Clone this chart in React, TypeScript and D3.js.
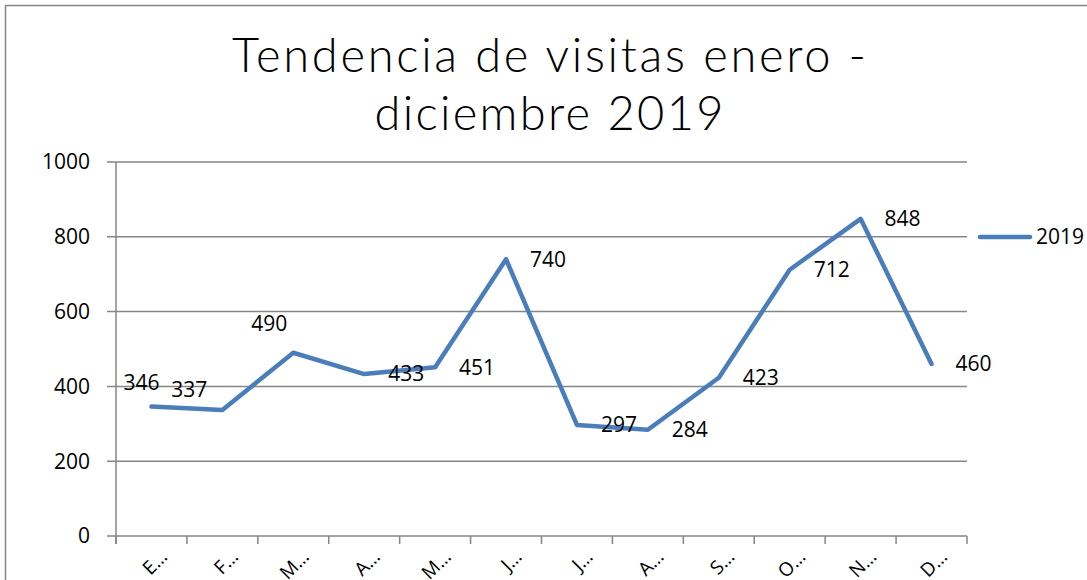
import React from "react";
import * as d3 from "d3";

const months = ["Enero", "Febrero", "Marzo", "Abril", "Mayo", "Junio", "Julio", "Agosto", "Septiembre", "Octubre", "Noviembre", "Diciembre"];
const visits2019 = [346, 337, 490, 433, 451, 740, 297, 284, 423, 712, 848, 460];
const yTicks = [0, 200, 400, 600, 800, 1000];
const seriesName = "2019";
const titleLines = ["Tendencia de visitas enero -", "diciembre 2019"];
// label placement: "r" right, "la"/"lb" left-above, "a" above
const labelPos = ["la", "lb", "a", "r", "r", "r", "r", "r", "r", "r", "r", "r"];

const W = 1087, H = 580;
const M = { left: 116, right: 967, top: 162, bottom: 536 };
const BLUE = "#4a7ebb";
const GRID = "#868686";
const NUM_FONT = "'Open Sans', sans-serif";
const titleWidths = [634, 349];

export default function App() {
  const x = d3.scaleBand<string>().domain(months).range([M.left, M.right]);
  const y = d3.scaleLinear().domain([0, 1000]).range([M.bottom, M.top]);
  const cx = (m: string) => (x(m) ?? 0) + x.bandwidth() / 2;
  const line = d3.line<number>().x((_, i) => cx(months[i])).y((v) => y(v));
  const tickXs = months.map((m) => x(m) ?? 0).concat([M.right]);

  return (
    <div style={{ position: "fixed", left: 0, top: 0 }}>
      <svg width={W} height={H} style={{ display: "block", background: "#fff" }}>
        <rect x={5.5} y={5.5} width={W + 20} height={H + 20} fill="#fff" stroke={GRID} strokeWidth={1.5} />
        <g fontFamily="Lato, sans-serif" fontWeight={300} fontSize={47} textAnchor="middle" fill="#000">
          {titleLines.map((t, i) => (
            <text key={i} x={549} y={72 + i * 58} textLength={titleWidths[i]} lengthAdjust="spacing">{t}</text>
          ))}
        </g>
        {yTicks.map((t) => (
          <g key={t}>
            <line x1={M.left - 9} x2={M.right} y1={y(t)} y2={y(t)} stroke={GRID} strokeWidth={1.5} />
            <text x={90} y={y(t)} dy="0.35em" textAnchor="end" fontFamily={NUM_FONT} fontSize={21} fill="#000">{t}</text>
          </g>
        ))}
        <line x1={M.left} x2={M.left} y1={M.top} y2={M.bottom + 8} stroke={GRID} strokeWidth={1.5} />
        {tickXs.map((tx, i) => (
          <line key={i} x1={tx} x2={tx} y1={M.bottom} y2={M.bottom + 8} stroke={GRID} strokeWidth={1.5} />
        ))}
        {months.map((m) => (
          <text key={m} transform={`translate(${cx(m) + 17},${M.bottom + 22}) rotate(-45)`} textAnchor="end" fontFamily={NUM_FONT} fontSize={19} fill="#000">
            {m[0] + "…"}
          </text>
        ))}
        <path d={line(visits2019) ?? ""} fill="none" stroke={BLUE} strokeWidth={4.5} strokeLinejoin="round" strokeLinecap="round" />
        {visits2019.map((v, i) => {
          const px = cx(months[i]), py = y(v);
          const p = labelPos[i];
          let lx = px + 42, ly = py;
          if (p === "la") { lx = px - 10; ly = py - 24; }
          if (p === "lb") { lx = px - 33; ly = py - 20; }
          if (p === "a") { lx = px - 24; ly = py - 29; }
          return (
            <text key={i} x={lx} y={ly} dy="0.35em" textAnchor="middle" fontFamily={NUM_FONT} fontSize={21} fill="#000">{v}</text>
          );
        })}
        <line x1={980} x2={1030} y1={237} y2={237} stroke={BLUE} strokeWidth={4.5} strokeLinecap="round" />
        <text x={1036} y={237} dy="0.35em" fontFamily={NUM_FONT} fontSize={21} fill="#000">{seriesName}</text>
      </svg>
    </div>
  );
}
